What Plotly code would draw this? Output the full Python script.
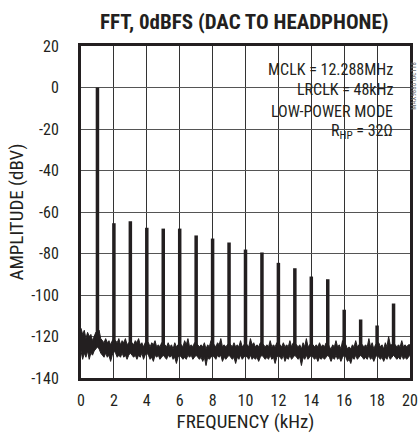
import plotly.graph_objects as go

# ---- data ----
freq_step_khz = 0.1
# upper and lower edges of the noise-floor band, 0.0 ... 20.0 kHz in 0.1 kHz steps
noise_upper_db = [
    -116, -119, -117, -121, -118, -120, -119, -122, -120, -118,
    -119, -117, -121, -122, -123, -121, -123, -122, -124, -122,
    -121, -122, -123, -121, -124, -122, -123, -121, -124, -123,
    -122, -123, -124, -122, -123, -121, -124, -123, -125, -123,
    -122, -123, -125, -123, -124, -122, -125, -124, -125, -123,
    -123, -124, -125, -123, -125, -124, -126, -123, -125, -124,
    -123, -124, -125, -122, -124, -121, -125, -124, -125, -123,
    -123, -124, -125, -124, -125, -123, -126, -124, -125, -122,
    -123, -124, -125, -123, -124, -121, -125, -124, -125, -124,
    -123, -124, -125, -123, -125, -124, -125, -122, -125, -124,
    -123, -124, -125, -121, -124, -123, -125, -124, -125, -123,
    -123, -124, -125, -124, -125, -122, -125, -124, -125, -123,
    -123, -124, -125, -123, -125, -124, -125, -122, -125, -123,
    -123, -124, -125, -124, -126, -123, -125, -121, -125, -124,
    -123, -124, -125, -124, -125, -123, -125, -124, -125, -123,
    -123, -125, -126, -124, -125, -122, -125, -124, -126, -122,
    -123, -124, -126, -125, -126, -124, -125, -122, -125, -124,
    -123, -124, -125, -124, -125, -121, -125, -123, -126, -124,
    -123, -123, -125, -124, -126, -123, -125, -120, -124, -124,
    -123, -124, -125, -124, -125, -122, -125, -124, -125, -124,
    -124,
]
noise_lower_db = [
    -127, -131, -128, -130, -127, -131, -128, -129, -127, -126,
    -125, -126, -128, -129, -130, -128, -130, -129, -132, -129,
    -127, -128, -130, -129, -130, -128, -130, -129, -131, -129,
    -128, -129, -130, -129, -131, -129, -130, -128, -131, -129,
    -128, -129, -131, -130, -132, -129, -130, -129, -131, -130,
    -129, -130, -131, -129, -130, -129, -131, -130, -133, -130,
    -129, -130, -131, -130, -131, -129, -130, -129, -131, -130,
    -129, -130, -131, -130, -132, -130, -134, -130, -131, -130,
    -129, -130, -131, -129, -130, -129, -132, -130, -131, -130,
    -129, -130, -131, -130, -133, -130, -131, -129, -131, -130,
    -129, -130, -131, -129, -131, -130, -131, -130, -132, -130,
    -129, -130, -131, -130, -131, -129, -131, -130, -133, -130,
    -129, -130, -131, -129, -132, -130, -131, -129, -131, -130,
    -129, -130, -131, -130, -134, -130, -131, -129, -131, -130,
    -129, -130, -131, -130, -132, -130, -131, -130, -131, -130,
    -129, -130, -132, -130, -131, -129, -131, -130, -132, -130,
    -129, -130, -132, -131, -133, -130, -131, -129, -131, -130,
    -129, -130, -131, -130, -131, -129, -131, -130, -132, -130,
    -129, -130, -131, -130, -132, -130, -131, -129, -131, -130,
    -129, -130, -131, -130, -131, -129, -131, -130, -131, -130,
    -129,
]
harmonic_khz = [1, 2, 3, 4, 5, 6, 7, 8, 9, 10, 11, 12, 13, 14, 15, 16, 17, 18, 19]
harmonic_db = [0, -65.4, -64.4, -67.6, -68, -68, -71.3, -72.8, -74.7, -78.1,
               -79.5, -84.5, -87.1, -91.1, -92.4, -107.1, -111.8, -114.7, -104.1]
x_ticks = [0, 2, 4, 6, 8, 10, 12, 14, 16, 18, 20]
y_ticks = [20, 0, -20, -40, -60, -80, -100, -120, -140]
notes = ["MCLK = 12.288MHz", "LRCLK = 48kHz", "LOW-POWER MODE", "R<sub>HP</sub> = 32Ω"]

noise_khz = [round(i * freq_step_khz, 1) for i in range(len(noise_upper_db))]

# spikes: vertical segments from the noise band up to each harmonic level
spike_x, spike_y = [], []
for f, d in zip(harmonic_khz, harmonic_db):
    base = noise_lower_db[noise_khz.index(float(f))]
    spike_x += [f, f, None]
    spike_y += [base, d, None]

INK = "#231f20"
FONT = "Liberation Sans Narrow, Arial Narrow, Roboto Condensed, Arial, sans-serif"

fig = go.Figure()
fig.add_trace(go.Scatter(x=noise_khz, y=noise_lower_db, mode="lines",
                         line=dict(color=INK, width=1), hoverinfo="skip",
                         showlegend=False))
fig.add_trace(go.Scatter(x=noise_khz, y=noise_upper_db, mode="lines",
                         line=dict(color=INK, width=1), fill="tonexty",
                         fillcolor=INK, hoverinfo="skip", showlegend=False))
fig.add_trace(go.Scatter(x=spike_x, y=spike_y, mode="lines",
                         line=dict(color=INK, width=3.5), showlegend=False))

fig.update_layout(
    width=419, height=440,
    margin=dict(l=81, r=9, t=46, b=62),
    paper_bgcolor="white", plot_bgcolor="white",
    font=dict(family=FONT, size=16, color=INK),
    title=dict(text="<b>FFT, 0dBFS (DAC TO HEADPHONE)</b>",
               x=0.583, xanchor="center", y=0.95, yanchor="middle",
               font=dict(family=FONT, size=21, color=INK)),
    xaxis=dict(range=[0, 20], tickvals=x_ticks, ticktext=[str(v) for v in x_ticks],
               showgrid=True, gridcolor="#333333", gridwidth=1,
               showline=True, linecolor=INK, linewidth=3, mirror=True,
               zeroline=False, ticks="", ticklabelstandoff=6,
               automargin=False,
               title=dict(text="FREQUENCY (kHz)", standoff=4),
               fixedrange=True),
    yaxis=dict(range=[-140, 20], tickvals=y_ticks, ticktext=[str(v) for v in y_ticks],
               showgrid=True, gridcolor="#555555", gridwidth=1,
               showline=True, linecolor=INK, linewidth=3, mirror=True,
               zeroline=False, ticks="", ticklabelstandoff=16,
               automargin=False,
               title=dict(text="AMPLITUDE (dBV)", standoff=3),
               fixedrange=True),
)

fig.add_shape(type="rect", xref="paper", yref="paper",
              x0=0.543, x1=0.98, y0=0.68, y1=0.995,
              fillcolor="white", line=dict(width=0), layer="between")

note_y = [0.929, 0.870, 0.803, 0.742]
for t, yy in zip(notes, note_y):
    fig.add_annotation(text=t, xref="paper", yref="paper", x=0.955, y=yy,
                       xanchor="right", yanchor="middle", showarrow=False,
                       font=dict(family=FONT, size=16, color=INK))

fig.add_annotation(text="MAX9880 toc118", xref="paper", yref="paper",
                   x=1.0, xshift=4, y=0.88, xanchor="center", yanchor="middle",
                   textangle=-90, showarrow=False, borderpad=0,
                   font=dict(family=FONT, size=7, color="#6d6d6d"))

fig.write_html("out.html", config={"displayModeBar": False},
               post_script="document.body.style.margin='0';document.body.style.padding='0';")
